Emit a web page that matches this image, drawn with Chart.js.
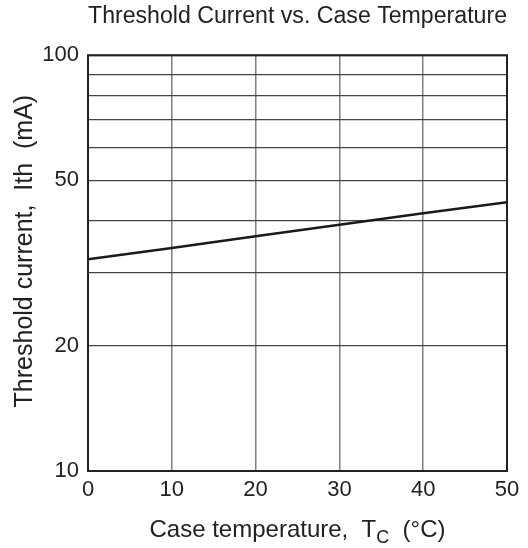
<!DOCTYPE html>
<html>
<head>
<meta charset="utf-8">
<script src="https://cdn.jsdelivr.net/npm/chart.js@4"></script>
<style>
  html, body { margin: 0; padding: 0; background: #fff; }
  #wrap { width: 528px; height: 548px; }
</style>
</head>
<body>
<div id="wrap"><canvas id="line-chart" width="528" height="548"></canvas></div>
<script>
// data
const caseTemps = [0, 10, 20, 30, 40, 50];            // Tc (°C)
const thresholdCurrent = [32.3, 34.4, 36.7, 39.1, 41.7, 44.3]; // Ith (mA)
const yGridValues = [10, 20, 30, 40, 50, 60, 70, 80, 90, 100];
const yLabelValues = [10, 20, 50, 100];
const xTicks = [0, 10, 20, 30, 40, 50];

const FONT = "'Liberation Sans', Arial, Helvetica, sans-serif";

// frame around plot + axis titles (x title needs a subscript)
const framePlugin = {
    id: 'frame',
    afterDraw(chart) {
        const ctx = chart.ctx;
        const a = chart.chartArea;
        ctx.save();
        ctx.strokeStyle = '#222';
        ctx.lineWidth = 2;
        ctx.strokeRect(a.left, a.top, a.right - a.left, a.bottom - a.top);

        ctx.fillStyle = '#222';
        ctx.textBaseline = 'alphabetic';
        ctx.textAlign = 'left';

        // x title: "Case temperature,  T" + sub "C" + "  (°C)"
        const main = 'Case temperature,  T';
        const sub = 'C';
        const tail = '  (°C)';
        ctx.font = '24px ' + FONT;
        const w1 = ctx.measureText(main).width;
        const w3 = ctx.measureText(tail).width;
        ctx.font = '18px ' + FONT;
        const w2 = ctx.measureText(sub).width;
        let x = (a.left + a.right) / 2 - (w1 + w2 + w3) / 2;
        const base = 537;
        ctx.font = '24px ' + FONT;
        ctx.fillText(main, x, base);
        x += w1;
        ctx.font = '18px ' + FONT;
        ctx.fillText(sub, x, base + 6);
        x += w2;
        ctx.font = '24px ' + FONT;
        ctx.fillText(tail, x, base);

        // y title, rotated
        ctx.translate(25, (a.top + a.bottom) / 2 - 12);
        ctx.rotate(-Math.PI / 2);
        ctx.textAlign = 'center';
        ctx.textBaseline = 'middle';
        ctx.font = '25px ' + FONT;
        ctx.fillText('Threshold current,  Ith  (mA)', 0, 0);
        ctx.restore();
    }
};

new Chart(document.getElementById('line-chart'), {
    type: 'line',
    data: {
        labels: caseTemps,
        datasets: [{
            label: 'Threshold current',
            data: caseTemps.map((t, i) => ({ x: t, y: thresholdCurrent[i] })),
            borderColor: '#1a1a1a',
            borderWidth: 2.5,
            pointRadius: 0,
            tension: 0,
            fill: false
        }]
    },
    options: {
        responsive: false,
        animation: false,
        devicePixelRatio: 1,
        layout: { padding: { left: 0, right: 21, top: 0, bottom: 0 } },
        plugins: {
            legend: { display: false },
            tooltip: { enabled: false },
            title: {
                display: true,
                text: 'Threshold Current vs. Case Temperature',
                color: '#222',
                fullSize: false,
                font: { family: FONT, size: 23.5, weight: 'normal' },
                padding: { top: 2, bottom: 25 }
            }
        },
        scales: {
            x: {
                type: 'linear',
                min: 0,
                max: 50,
                afterBuildTicks: (s) => { s.ticks = xTicks.map(v => ({ value: v })); },
                afterFit: (s) => { s.height = 77; },
                ticks: {
                    color: '#222',
                    padding: 6,
                    maxRotation: 0,
                    autoSkip: false,
                    font: { family: FONT, size: 22 }
                },
                grid: { color: '#808080', lineWidth: 1.5, drawTicks: false },
                border: { display: false }
            },
            y: {
                type: 'logarithmic',
                min: 10,
                max: 100,
                afterBuildTicks: (s) => { s.ticks = yGridValues.map(v => ({ value: v })); },
                afterFit: (s) => { s.width = 88; },
                ticks: {
                    color: '#222',
                    padding: 9,
                    autoSkip: false,
                    font: { family: FONT, size: 22 },
                    callback: (v) => yLabelValues.includes(v) ? String(v) : ''
                },
                grid: { color: '#444', lineWidth: 1.2, drawTicks: false },
                border: { display: false }
            }
        }
    },
    plugins: [framePlugin]
});
</script>
</body>
</html>
